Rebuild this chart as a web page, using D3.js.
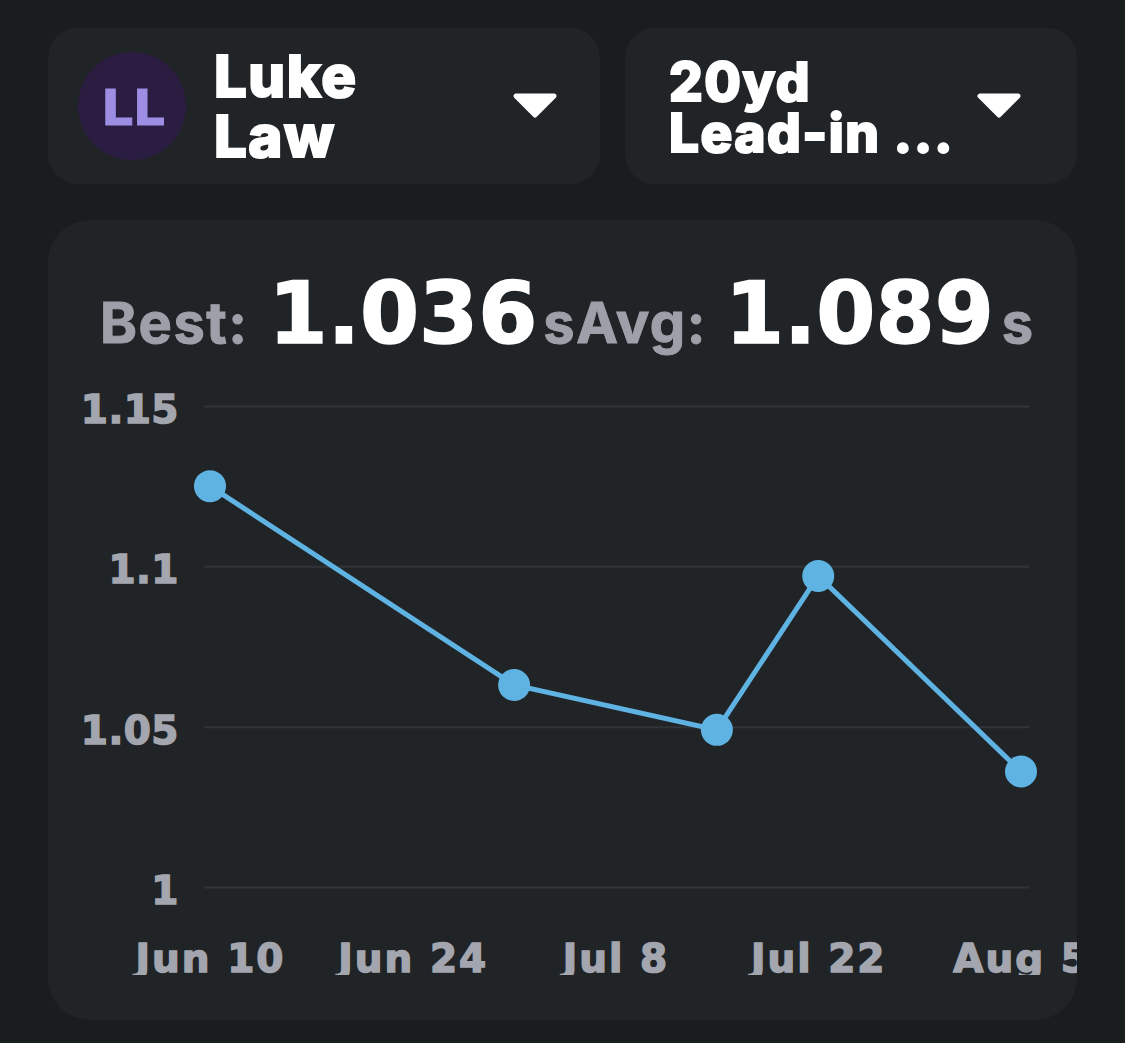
<!DOCTYPE html>
<html>
<head>
<meta charset="utf-8">
<script src="https://cdn.jsdelivr.net/npm/d3@7"></script>
<style>
  html, body { margin: 0; padding: 0; background: #1a1d1e; }
  svg { display: block; font-family: Inter, "Liberation Sans", sans-serif; font-weight: 800; }
  .heavy { font-family: "DejaVu Sans", Inter, sans-serif; font-weight: bold; }
</style>
</head>
<body>
<div id="area"></div>
<script>
// session results (seconds) for the 20yd lead-in
var sessionDates = ["2024-06-10", "2024-07-01", "2024-07-15", "2024-07-22", "2024-08-05"];
var sessionTimes = [1.125, 1.063, 1.049, 1.097, 1.036];
var yTicks = [1, 1.05, 1.1, 1.15];
var xTickDates = ["2024-06-10", "2024-06-24", "2024-07-08", "2024-07-22", "2024-08-05"];
var athlete = ["Luke", "Law"];
var initials = "LL";
var drill = ["20yd", "Lead-in ..."];
var bestTime = "1.036";
var avgTime = "1.089";

var W = 1125, H = 1043;
var parse = d3.timeParse("%Y-%m-%d");
var grey = "#a3a6ae";

var svg = d3.select("#area")
    .append("svg")
        .attr("width", W)
        .attr("height", H);

svg.append("rect").attr("width", W).attr("height", H).attr("fill", "#1a1d1e");

// top selector cards
svg.append("rect").attr("x", 48).attr("y", 28).attr("width", 552).attr("height", 156)
    .attr("rx", 30).attr("fill", "#212427");
svg.append("rect").attr("x", 625).attr("y", 28).attr("width", 452).attr("height", 156)
    .attr("rx", 30).attr("fill", "#212427");

svg.append("circle").attr("cx", 132).attr("cy", 106).attr("r", 54).attr("fill", "#2b1d42");
svg.append("text").attr("class", "heavy")
    .attr("x", 133).attr("y", 125).attr("text-anchor", "middle")
    .style("font-size", "50px").attr("fill", "#9d8ee3")
    .attr("stroke", "#9d8ee3").attr("stroke-width", 1)
    .text(initials);

// two-line labels as one text block
function twoLines(lines, x0, y0, lineGap, size) {
    var t = svg.append("text")
        .attr("x", x0).attr("y", y0)
        .style("font-size", size).style("letter-spacing", "1.5px")
        .attr("fill", "#ffffff").attr("stroke", "#ffffff").attr("stroke-width", 2);
    t.selectAll("tspan").data(lines).enter().append("tspan")
        .attr("x", x0)
        .attr("dy", function(d, i) { return i === 0 ? 0 : lineGap; })
        .text(function(d) { return d; });
}
twoLines(athlete, 214, 97, 60, "58px");
twoLines(drill, 669, 101, 51, "53px");

function caret(cx) {
    svg.append("path")
        .attr("d", "M" + (cx - 19) + ",96 L" + (cx + 19) + ",96 L" + cx + ",115 Z")
        .attr("fill", "#ffffff").attr("stroke", "#ffffff")
        .attr("stroke-width", 5).attr("stroke-linejoin", "round");
}
caret(535);
caret(999);

// chart card
svg.append("rect").attr("x", 48).attr("y", 220).attr("width", 1029).attr("height", 800)
    .attr("rx", 42).attr("fill", "#212427");

var header = svg.append("text").attr("x", 100).attr("y", 343);
function label(t, dx) {
    header.append("tspan").attr("dx", dx).attr("fill", "#9da0a8")
        .attr("stroke", "#9da0a8").attr("stroke-width", 1)
        .style("font-size", "56px").style("font-weight", 700).style("letter-spacing", "1.5px")
        .text(t);
}
function value(t, dx) {
    header.append("tspan").attr("class", "heavy").attr("dx", dx).attr("fill", "#ffffff")
        .attr("stroke", "#ffffff").attr("stroke-width", 1.5)
        .style("font-size", "85px").text(t);
}
label("Best:", 0);
value(bestTime, 20);
label("s", 6);
label("Avg:", 0);
value(avgTime, 18);
label("s", 8);

var x = d3.scaleTime()
    .domain([parse(xTickDates[0]), parse(xTickDates[xTickDates.length - 1])])
    .range([210, 1021]);

var y = d3.scaleLinear()
    .domain([1, 1.15])
    .range([887, 406]);

svg.append("clipPath").attr("id", "card-clip")
    .append("rect").attr("x", 48).attr("y", 220).attr("width", 1029).attr("height", 755);

var yAxis = svg.append("g")
    .attr("transform", "translate(204,0)")
    .call(d3.axisLeft(y).tickValues(yTicks).tickSize(-825).tickPadding(25).tickFormat(d3.format("~g")));
yAxis.select(".domain").remove();
yAxis.selectAll("line").attr("stroke", "#303438").attr("stroke-width", 2);
yAxis.selectAll("text")
    .attr("fill", grey)
    .attr("stroke", grey).attr("stroke-width", 1.5)
    .attr("dy", "0.42em")
    .style("font-size", "39px").style("letter-spacing", "0.5px")
    .style("font-family", "'DejaVu Sans', sans-serif").style("font-weight", "bold");

var xAxis = svg.append("g")
    .attr("clip-path", "url(#card-clip)")
    .append("g")
    .attr("transform", "translate(0,944)")
    .call(d3.axisBottom(x).tickValues(xTickDates.map(parse)).tickSize(0).tickPadding(0)
        .tickFormat(d3.timeFormat("%b %-d")));
xAxis.select(".domain").remove();
xAxis.selectAll("text")
    .attr("fill", grey)
    .attr("stroke", grey).attr("stroke-width", 1.5)
    .attr("dy", "0.73em")
    .style("font-size", "39px").style("letter-spacing", "2px")
    .style("font-family", "'DejaVu Sans', sans-serif").style("font-weight", "bold");

var points = sessionDates.map(function(d, i) { return [parse(d), sessionTimes[i]]; });

svg.append("path")
    .datum(points)
    .attr("fill", "none")
    .attr("stroke", "#5fb3e3")
    .attr("stroke-width", 5)
    .attr("d", d3.line()
        .x(function(d) { return x(d[0]); })
        .y(function(d) { return y(d[1]); }));

svg.selectAll(".dot")
    .data(points)
    .enter()
    .append("circle")
    .attr("class", "dot")
    .attr("cx", function(d) { return x(d[0]); })
    .attr("cy", function(d) { return y(d[1]); })
    .attr("r", 16)
    .attr("fill", "#5fb3e3");
</script>
</body>
</html>
